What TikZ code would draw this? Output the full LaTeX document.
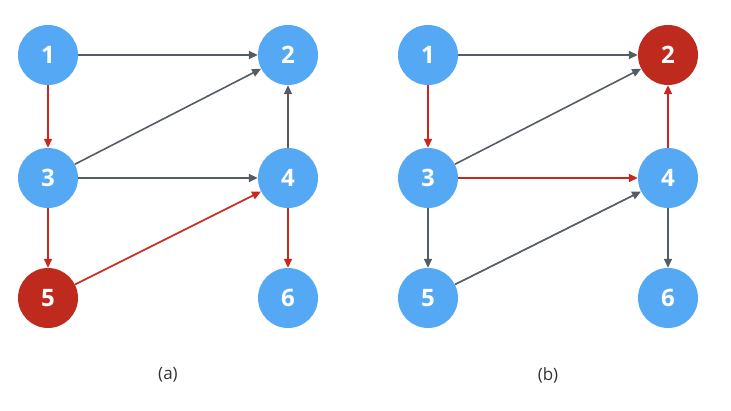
\documentclass[tikz,border=0pt]{standalone}
\usepackage{fontspec}
\setmainfont{Open Sans}
\usepackage{tikz}
\usetikzlibrary{arrows.meta}
\definecolor{nodeblue}{HTML}{55A9F4}
\definecolor{nodered}{HTML}{BF2A1E}
\definecolor{edgegray}{HTML}{565C64}
\definecolor{edgered}{HTML}{C8281E}

\begin{document}
\begin{tikzpicture}[x=1pt,y=-1pt,vertex/.style={circle,fill=nodeblue,minimum size=60pt,inner sep=0pt,text=white,font=\fontsize{24}{24}\selectfont\bfseries},hit/.style={vertex,fill=nodered},plain/.style={draw=edgegray,line width=1.6pt,-{Triangle[length=9pt,width=8pt]}},path/.style={plain,draw=edgered},caption/.style={font=\fontsize{17}{17}\selectfont,text=black!80}]
	\useasboundingbox (0,0) rectangle (731,411);
	
	% (a)
	\node[vertex] (a1) at (48,55) {1};
	\node[vertex] (a2) at (288,55) {2};
	\node[vertex] (a3) at (48,178) {3};
	\node[vertex] (a4) at (288,178) {4};
	\node[hit] (a5) at (48,298) {5};
	\node[vertex] (a6) at (288,298) {6};
	\draw[plain] (a1) -- (a2);
	\draw[path] (a1) -- (a3);
	\draw[plain] (a3) -- (a2);
	\draw[plain] (a3) -- (a4);
	\draw[plain] (a4) -- (a2);
	\draw[path] (a3) -- (a5);
	\draw[path] (a5) -- (a4);
	\draw[path] (a4) -- (a6);
	\node[caption] (capa) at (168,375) {(a)};
	
	% (b)
	\node[vertex] (b1) at (428,55) {1};
	\node[hit] (b2) at (668,55) {2};
	\node[vertex] (b3) at (428,178) {3};
	\node[vertex] (b4) at (668,178) {4};
	\node[vertex] (b5) at (428,298) {5};
	\node[vertex] (b6) at (668,298) {6};
	\draw[plain] (b1) -- (b2);
	\draw[path] (b1) -- (b3);
	\draw[plain] (b3) -- (b2);
	\draw[path] (b3) -- (b4);
	\draw[path] (b4) -- (b2);
	\draw[plain] (b3) -- (b5);
	\draw[plain] (b5) -- (b4);
	\draw[plain] (b4) -- (b6);
	\node[caption] (capb) at (548,375) {(b)};
\end{tikzpicture}
\end{document}
